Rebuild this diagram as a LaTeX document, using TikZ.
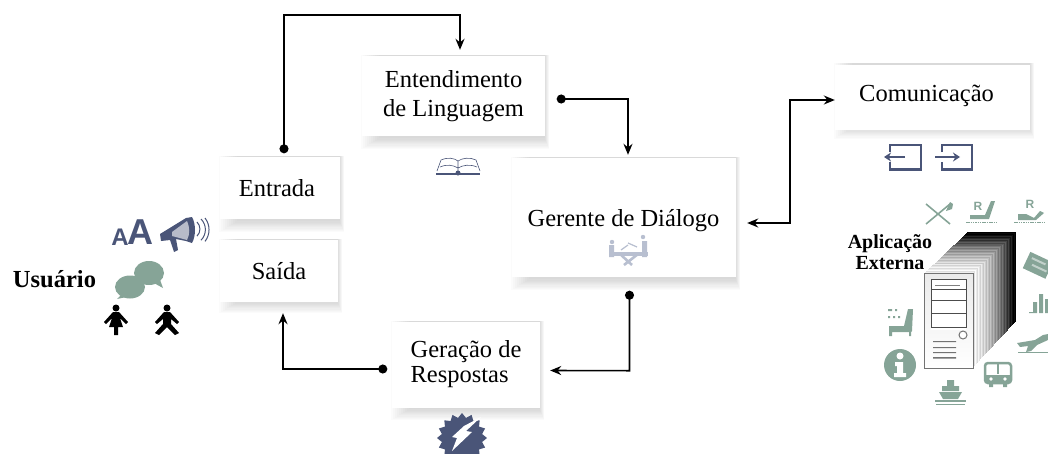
\documentclass[tikz,border=0pt]{standalone}
\usepackage{fontspec}
\setmainfont{Liberation Serif}
\newfontfamily\iconfont{Liberation Sans}
\usetikzlibrary{arrows.meta,backgrounds}
\definecolor{navyicon}{HTML}{4A5578}
\definecolor{tealicon}{HTML}{86A497}
\definecolor{paleicon}{HTML}{B8BFD0}
\tikzset{
  panel/.style={rectangle,fill=white,align=center,inner sep=0pt,font=\fontsize{24.5}{29}\selectfont},
  flow/.style={line width=1.6pt,-{Stealth[length=11pt,width=9pt]}},
  dotflow/.style={flow,{Circle[length=9pt]}-{Stealth[length=11pt,width=9pt]}},
  tag/.style={font=\bfseries\fontsize{20}{20.5}\selectfont,align=center,inner sep=0pt},
}
\begin{document}
\begin{tikzpicture}[x=1pt,y=-1pt]
  \useasboundingbox (0,0) rectangle (1048,453);

  % boxes
  \node[panel,minimum width=183pt,minimum height=80pt] (entendimento) at (453.5,96) {Entendimento\\de Linguagem};
  \node[panel,minimum width=120pt,minimum height=62pt] (entrada) at (280,188) {\hspace*{-6pt}Entrada};
  \node[panel,minimum width=118pt,minimum height=62pt] (saida) at (279,271) {Saída};
  \node[panel,minimum width=224pt,minimum height=119pt] (gerente) at (624,217.5) {};
  \node[panel,fill=none] (gerentetxt) at (623.5,221) {Gerente de Diálogo};
  \node[panel,minimum width=148pt,minimum height=86pt] (geracao) at (466,365) {};
  \node[panel,fill=none,align=left,font=\fontsize{24.5}{25}\selectfont] (geracaotxt) at (466,364) {Geração de\\Respostas};
  \node[panel,minimum width=195pt,minimum height=65pt] (comunicacao) at (932.5,97) {};
  \node[panel,fill=none] (comunicacaotxt) at (926.5,96) {Comunicação};

  % soft shadow under each box
  \begin{scope}[on background layer]
    \foreach \n/\h in {entendimento/13,entrada/13,saida/11,gerente/13,geracao/12,comunicacao/9}
      \foreach \i in {0,...,9}
        \fill[black,opacity=.016] ([shift={(-1+2*\i,-1)}]\n.north west)
          rectangle ([shift={(4-.5*\i,\h-1.2*\i)}]\n.south east);
  \end{scope}

  % connectors
  \draw[dotflow] ([shift={(4,-3.5)}]entrada.north) -- ++(0,-138.5) -| ([shift={(6.5,-6)}]entendimento.north);
  \draw[dotflow] ([shift={(11.5,3)}]entendimento.east) -| ([shift={(4,-3)}]gerente.north);
  \draw[flow,{Stealth[length=11pt,width=9pt]}-{Stealth[length=11pt,width=9pt]}]
    ([shift={(11,5.5)}]gerente.east) -| (790,100) -- (comunicacao.west |- 0,100);
  \draw[dotflow] ([shift={(5.5,13.5)}]gerente.south) -- ++(0,80) -- ([shift={(10,5.5)}]geracao.east);
  \draw[dotflow] ([shift={(-4.5,4)}]geracao.west) -| ([shift={(4,11)}]saida.south);

  % labels outside the boxes
  \node[tag,font=\bfseries\fontsize{24.5}{24.5}\selectfont] (usuario) at (54.5,279) {Usuário};
  \node[tag] (aplicacao) at (890,252) {Aplicação\\Externa};
  \node[font=\iconfont\bfseries\fontsize{24}{24}\selectfont,text=navyicon,inner sep=0pt] (letraa) at (120,237) {A};
  \node[font=\iconfont\bfseries\fontsize{36}{36}\selectfont,text=navyicon,inner sep=0pt] (letrab) at (140,232.5) {A};

  % megaphone
  \fill[navyicon] (160,234) -- (186,218) -- (192,217) .. controls (196,224) and (196,236) .. (192,243)
    -- (186,241) -- (176,239) -- (178,250) -- (174,252) -- (170,240) -- (161,241) -- cycle;
  \fill[white!60!navyicon] (187,221) .. controls (190,228) and (190,234) .. (187,240) -- (172,236) -- (172,232) -- cycle;
  \draw[navyicon,line width=1pt] (197,222) arc (-45:45:10);
  \draw[navyicon,line width=1pt] (201,219) arc (-45:45:15);
  \draw[navyicon,line width=1pt] (205,218) arc (-38:38:19);

  % speech bubbles
  \fill[tealicon] (149,273) ellipse [x radius=15,y radius=12];
  \fill[tealicon] (152,282) -- (163,288) -- (159,277) -- cycle;
  \fill[tealicon] (130,287) ellipse [x radius=15,y radius=11.5];
  \fill[tealicon] (121,295) -- (117,299) -- (131,296) -- cycle;

  % user figures
  \begin{scope}[shift={(116,0)}]
    \fill (0,308) circle (3.5);
    \fill (-3,312) -- (3,312) -- (12,322) -- (10,324) -- (4,318) -- (7,327) -- (2,327) -- (2,335)
      -- (-2,335) -- (-2,327) -- (-7,327) -- (-4,318) -- (-10,324) -- (-12,322) -- cycle;
  \end{scope}
  \begin{scope}[shift={(167,0)}]
    \fill (0,308) circle (3.5);
    \fill (-3,312) -- (3,312) -- (12,322) -- (10,324) -- (4,319) -- (4,324) -- (12,333) -- (8,335)
      -- (0,327) -- (-8,335) -- (-12,333) -- (-4,324) -- (-4,319) -- (-10,324) -- (-12,322) -- cycle;
  \end{scope}

  % book
  \draw[navyicon,line width=.6pt] (437,171) -- (441,160) .. controls (448,157) and (454,158) .. (458,161)
    .. controls (462,158) and (470,157) .. (476,160) -- (480,171);
  \draw[navyicon,line width=.6pt] (458,161) -- (458,171) (440,167) .. controls (447,164) and (453,165) .. (458,168)
    .. controls (463,165) and (470,164) .. (477,167);
  \draw[navyicon,line width=1.6pt] (436,174) -- (480,174);
  \fill[navyicon] (458,173) circle (2.5);

  % people around a table
  \fill[paleicon] (612,242) circle (2.2) (643,237) circle (2.2);
  \fill[paleicon] (609,245) rectangle (614,257) (642,241) rectangle (647,257);
  \fill[paleicon] (609,252) rectangle (648,256);
  \draw[paleicon,line width=2.6pt] (620,254) -- (632,265) (638,254) -- (624,265);
  \draw[paleicon,line width=1.2pt] (621,250) -- (628,245) (628,243) -- (637,247);

  % burst with lightning
  \fill[navyicon] plot[samples at={0,...,31},variable=\a]
    ({462+(25-4.5*mod(\a,2))*cos(\a*360/32)},{438+(25-4.5*mod(\a,2))*sin(\a*360/32)}) -- cycle;
  \fill[white] (481,417) -- (466,431) -- (472,432) -- (452,451) -- (457,438) -- (452,437) -- (464,426) -- cycle;

  % communication ports
  \draw[navyicon,line width=2.6pt] (890,152) -- (890,145) -- (921,145) -- (921,169.5) -- (890,169.5) -- (890,162);
  \draw[navyicon,line width=2.4pt,-{Stealth[length=7pt,width=9pt]}] (905,157) -- (884,157);
  \draw[navyicon,line width=2.6pt] (942,152) -- (942,145) -- (972,145) -- (972,169.5) -- (942,169.5) -- (942,162);
  \draw[navyicon,line width=2.4pt,-{Stealth[length=7pt,width=9pt]}] (935,157) -- (960,157);

  % server, extruded from the back plate to the front plate
  \foreach \i in {43,...,1}
    \pgfmathsetmacro{\lev}{min(100,100*(\i/43)^1.7+6*mod(\i,3))}
    \fill[black!\lev] (924+\i,273-\i*.95) rectangle (973+\i,368-\i*1.07);
  \shade[top color=black!8,bottom color=white,draw=black!55,line width=1pt] (924,273) rectangle (973,368);
  \fill[white] (931,279) rectangle (966,330);
  \draw[black!70,line width=1pt] (931,279) rectangle (966,327);
  \draw[black!70,line width=1pt] (932,289) -- (966,289) (932,300) -- (966,300) (932,313) -- (966,313);
  \draw[black!50,line width=.8pt] (935,285) -- (960,285);
  \fill[black!55] (933,341) rectangle (956,342) (933,347) rectangle (956,348) (933,352) rectangle (956,353) (933,357) rectangle (956,358.5);
  \draw[black!55,fill=white,line width=1pt] (963,335) circle (4);

  % services around the server
  \draw[tealicon,line width=1.6pt] (926,204) -- (950,224) (926,224) -- (950,204);
  \fill[tealicon] (950,202) -- (953,204) -- (952,209) -- (946,211) -- cycle;
  \begin{scope}[shift={(982,0)}]
    \node[font=\iconfont\bfseries\fontsize{12}{12}\selectfont,text=tealicon,inner sep=0pt] (seatr) at (-4,206) {R};
    \fill[tealicon] (-12,215) -- (3,215) -- (9,201) -- (13,201) -- (7,219) -- (-12,219) -- cycle;
    \draw[tealicon,line width=1pt,dash pattern=on 1.5pt off .8pt] (-16,222) -- (16,222);
  \end{scope}
  \begin{scope}[shift={(1030,0)}]
    \node[font=\iconfont\bfseries\fontsize{12}{12}\selectfont,text=tealicon,inner sep=0pt] (bedr) at (0,204) {R};
    \fill[tealicon] (-12,214) -- (-4,214) -- (4,218) -- (10,211) -- (14,213) -- (6,220) -- (-12,220) -- cycle;
    \draw[tealicon,line width=1pt,dash pattern=on 1.5pt off .8pt] (-16,222) -- (16,222);
  \end{scope}
  \fill[tealicon,rotate around={-25:(1037,266)}] (1025,256) rectangle (1050,274);
  \fill[white,opacity=.5,rotate around={-25:(1037,266)}] (1029,260) rectangle (1044,262) (1032,266) rectangle (1048,268);
  \fill[tealicon] (1029,312) rectangle (1033,313) (1033,302) rectangle (1037,313) (1039,294) rectangle (1043,313) (1045,299) rectangle (1048,313);
  \fill[tealicon] (1017,343) -- (1035,340) -- (1043,335) -- (1048,334) -- (1048,340) -- (1037,345) -- (1031,351) -- (1026,352) -- (1028,346) -- (1020,347) -- cycle;
  \draw[tealicon,line width=.6pt] (1018,352) -- (1048,352);
  \draw[tealicon,line width=2.5pt,rounded corners=3pt] (985,363) rectangle (1011,383);
  \draw[tealicon,line width=1.5pt] (998,363) -- (998,374);
  \fill[tealicon] (985,375) rectangle (1011,382);
  \fill[white] (991,379) circle (1.8) (1005,379) circle (1.8);
  \fill[tealicon] (989,383) rectangle (993,387) (1003,383) rectangle (1007,387);
  \fill[tealicon] (939,392) -- (962,392) -- (958,399) -- (943,399) -- cycle;
  \fill[tealicon] (942,391) rectangle (959,386) (947,386) rectangle (954,380);
  \draw[tealicon,line width=1.2pt] (935,401) -- (966,401) (936,404.5) -- (965,404.5);
  \fill[tealicon] (900,365) circle (16);
  \fill[white] (900,356) circle (3.5);
  \fill[white] (895,362) -- (903,362) -- (903,373) -- (906,373) -- (906,377) -- (894,377) -- (894,373) -- (897,373) -- (897,366) -- (895,366) -- cycle;
  \fill[tealicon] (889,326) -- (904,326) -- (908,309) -- (913,309) -- (912,331) -- (911,332) -- (911,336) -- (909,336) -- (909,332) -- (892,332) -- (892,336) -- (889,336) -- cycle;
  \fill[tealicon] (888,309) rectangle (892,311) (895,309) rectangle (897,311) (888,316) rectangle (890,318) (893,316) rectangle (895,318) (898,316) rectangle (900,318);
\end{tikzpicture}
\end{document}
